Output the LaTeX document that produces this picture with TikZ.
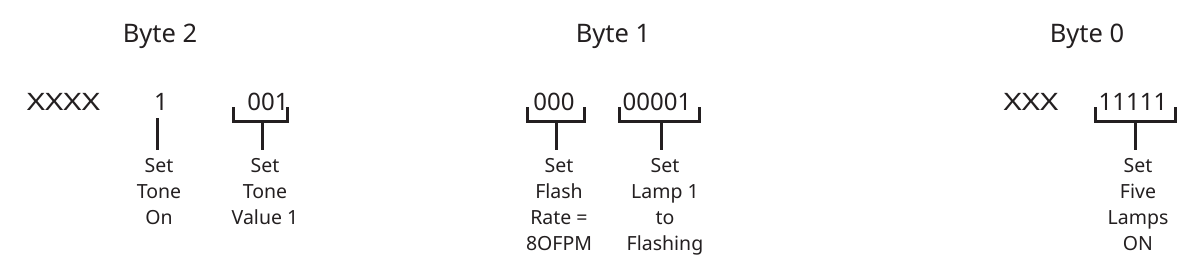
\documentclass[tikz,border=0pt]{standalone}
\usepackage{fontspec}
\setmainfont{Noto Sans}
\newfontfamily\widefont[FakeStretch=1.3]{Noto Sans}
\usetikzlibrary{calc}
\definecolor{ink}{HTML}{231F20}
\begin{document}
\begin{tikzpicture}[x=1pt,y=-1pt,
  every node/.style={text=ink},
  title/.style={font=\fontsize{25.5}{30}\selectfont, anchor=base, inner sep=0pt},
  bits/.style={font=\fontsize{24}{28}\selectfont, anchor=base, inner sep=0pt},
  lbl/.style={font=\fontsize{19.5}{26}\selectfont, align=center, anchor=north, inner sep=0pt, outer sep=0pt},
  brk/.style={draw=ink, line width=3pt, line cap=butt, line join=miter},
  stem/.style={draw=ink, line width=3pt, shorten >=8pt}]
\useasboundingbox (0,0) rectangle (1191,265);
% titles
\node[title] (t2) at (160,42) {Byte 2};
\node[title] (t1) at (613,42) {Byte 1};
\node[title] (t0) at (1087,42) {Byte 0};
% bits
\node[bits] (x2) at (63.5,110) {\widefont XXXX};
\node[bits] (b2a) at (161,110) {1};
\node[bits] (b2b) at (268,110) {001};
\node[bits] (b1a) at (554,110) {000};
\node[bits] (b1b) at (657,110) {00001};
\node[bits] (x0) at (1031,110) {\widefont XXX};
\node[bits] (b0) at (1133,110) {11111};
% labels
\node[lbl] (l2a) at (159,158) {Set\\Tone\\On};
\node[lbl] (l2b) at (265,158) {Set\\Tone\\Value 1};
\node[lbl] (l1a) at (559,158) {Set\\Flash\\Rate =\\8OFPM};
\node[lbl] (l1b) at (665,158) {Set\\Lamp 1\\to\\Flashing};
\node[lbl] (l0) at (1138,158) {Set\\Five\\Lamps\\ON};
% brackets
\draw[brk] (233,107) -- (233,121) -- (287,121) -- (287,107);
\coordinate (k2) at (262,121);
\draw[brk] (527,107) -- (527,121) -- (584,121) -- (584,107);
\coordinate (k1a) at (556,121);
\draw[brk] (619,107) -- (619,121) -- (699,121) -- (699,107);
\coordinate (k1b) at (661,121);
\draw[brk] (1095,107) -- (1095,121) -- (1175,121) -- (1175,107);
\coordinate (k0) at (1135,121);
\coordinate (s2) at (157,118);
% stems
\draw[stem] (s2) -- (s2 |- l2a.north);
\draw[stem] (k2) -- (k2 |- l2b.north);
\draw[stem] (k1a) -- (k1a |- l1a.north);
\draw[stem] (k1b) -- (k1b |- l1b.north);
\draw[stem] (k0) -- (k0 |- l0.north);
\end{tikzpicture}
\end{document}
